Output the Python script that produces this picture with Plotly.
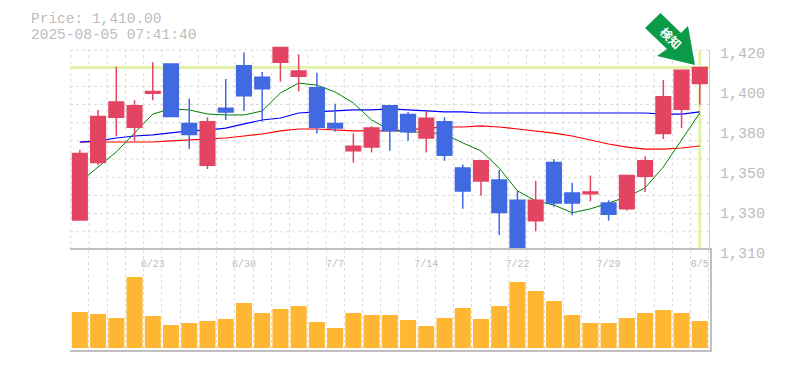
import math
import plotly.graph_objects as go

# ---- data ----
opens = [1326,1357,1382,1376.5,1395.5,1412,1378.5,1355.5,1387,1411,1404.5,1413,1405,1398.5,1378.5,1363.5,1365.5,1388.5,1383.5,1370.5,1379.5,1354,1347,1347.5,1336.5,1325.5,1357,1340.5,1340,1335,1332,1349.5,1373,1386.5,1401]
highs = [1364,1386,1410.5,1391.5,1413,1412,1392.5,1382,1403.5,1418.5,1407.5,1421.5,1417.5,1407,1389.5,1373,1377,1388.5,1385,1385.5,1382,1356,1358,1353,1341.5,1347,1359,1346,1350,1336.5,1350,1360.5,1403,1408.5,1410]
lows = [1325.5,1355.5,1371.5,1369,1391.5,1382.5,1364.5,1353.5,1380.5,1385.5,1379.5,1402,1396.5,1373,1374,1357,1362.5,1363.5,1369,1362.5,1358,1332,1339,1318,1309.5,1320,1333,1328.5,1336,1325.5,1331,1341,1370,1376,1389]
closes = [1362,1382.5,1390.5,1388.5,1396.5,1382.5,1372.5,1379.5,1385,1394,1398,1421.5,1408,1376.5,1376,1366,1376,1374.5,1374,1381.5,1361,1341.5,1358,1330,1310.5,1336.5,1335,1335,1341,1329,1350,1358,1393.5,1408.5,1410]
ma_short = [1346.4,1354.6,1362.8,1373.2,1383.8,1386.7,1386.1,1383.8,1383.3,1383.3,1385.5,1395.6,1401.2,1400,1396.2,1390,1380.5,1374.9,1373.8,1373.8,1372.7,1367.8,1363.4,1354,1341.6,1336.2,1334,1329.8,1331.9,1335.1,1338.3,1343.2,1354.6,1369.4,1384.4]
ma_mid = [1368.3,1368.9,1370.5,1371.6,1372.2,1373.2,1374.4,1374.9,1376,1378.3,1380.5,1381.6,1384.4,1385,1385.5,1386.1,1386.1,1386.7,1386.1,1385.5,1385,1385,1384.4,1384.4,1384.4,1384.4,1384.4,1384.4,1384.4,1384.4,1384.4,1384.4,1383.8,1383.8,1385]
ma_long = [1368.3,1368.3,1368.3,1368.3,1368.3,1368.9,1369.4,1370,1370.5,1371.6,1372.7,1374.4,1375.5,1375.5,1374.9,1374.4,1374.4,1374.4,1374.9,1376,1376.6,1376.6,1377.2,1376.6,1375.5,1374.4,1373.2,1371.6,1369.4,1367.2,1365.5,1364.4,1364.4,1365,1366.1]
volumes = [36,34,30,71,32,23,25,27,29,45,35,39,42,26,20,35,33,33,28,22,30,40,29,42,66,57,47,33,25,25,30,35,38,35,27]
date_positions = [4,9,14,19,24,29,34]
date_labels = ["6/23","6/30","7/7","7/14","7/22","7/29","8/5"]
price_ticks = [1420,1397.2,1375,1353,1331.4,1310]
price_labels = ["1,420","1,400","1,380","1,350","1,330","1,310"]
current_price = 1410

# ---- layout constants ----
W, H = 785, 370
GREY = "#c0c0c0"; GRID = "#dcdcdc"; TEXT = "#bdbdbd"; MONO = "Liberation Mono"
n = len(closes)
xs = list(range(n))
xr = [-0.54, 34.56]
lo, hi = 1310, 1420
top_ext = 6  # px above the 1420 line, so that a candle can pass it
step = (math.log10(hi) - math.log10(lo)) / 200
yr = [math.log10(lo), math.log10(hi) + top_ext * step]
xdom = [70 / W, 710 / W]
ydom_main = [1 - 250 / H, 1 - (50 - top_ext) / H]
ydom_vol = [1 - 350 / H, 1 - 250 / H]
grid_prices = [lo * (hi / lo) ** (k / 11) for k in range(0, 12)]

fig = go.Figure()
def line(x, y, color, width, dash="solid"):
    fig.add_trace(go.Scatter(x=x, y=y, mode="lines", hoverinfo="skip", showlegend=False,
                             cliponaxis=False, line=dict(color=color, width=width, dash=dash)))

hx, hy = [], []
for p in grid_prices[1:]:
    hx += [xr[0], xr[1], None]; hy += [p, p, None]
vx, vy = [], []
for i in range(n):
    vx += [i - 0.5, i - 0.5, None]; vy += [lo, hi, None]
line(hx, hy, GRID, 1, "3px,3px")
line(vx, vy, GRID, 1, "3px,3px")
line(xr, [current_price, current_price], "#e3f2ab", 3)
line([n - 1, n - 1], [lo, hi], "#e3f2ab", 3)
line([xr[1], xr[1]], [lo, hi], GREY, 1.5)
line(xr, [lo, lo], GREY, 1.5)
fig.add_trace(go.Scatter(x=xs, y=ma_long, mode="lines", line=dict(color="#ff0000", width=1.2), showlegend=False))
fig.add_trace(go.Scatter(x=xs, y=ma_mid, mode="lines", line=dict(color="#0000ff", width=1.2), showlegend=False))
fig.add_trace(go.Scatter(x=xs, y=ma_short, mode="lines", line=dict(color="#008000", width=1), showlegend=False))

fig.add_trace(go.Candlestick(
    x=xs, open=opens, high=highs, low=lows, close=closes, xaxis="x3", yaxis="y3", whiskerwidth=0,
    increasing=dict(line=dict(color="#e24462", width=1.5), fillcolor="#e24462"),
    decreasing=dict(line=dict(color="#4169e1", width=1.5), fillcolor="#4169e1"),
    showlegend=False))

fig.add_trace(go.Bar(x=xs, y=volumes, xaxis="x2", yaxis="y2", marker=dict(color="#ffb733", line=dict(width=0)),
                     width=0.88, showlegend=False))

fig.update_layout(
    template="none",
    width=W, height=H, margin=dict(l=0, r=0, t=0, b=0, pad=0), autosize=False,
    paper_bgcolor="white", plot_bgcolor="white", boxgap=0.2, boxgroupgap=0, showlegend=False,
    font=dict(family=MONO, color=TEXT, size=15),
    xaxis=dict(domain=xdom, range=xr, showgrid=False, zeroline=False, showticklabels=False, ticks="", automargin=False),
    yaxis=dict(domain=ydom_main, type="log", range=yr, showgrid=False, zeroline=False, showticklabels=False, ticks="", automargin=False),
    xaxis3=dict(domain=xdom, range=xr, overlaying="x", anchor="y", tickmode="array", tickvals=date_positions,
                ticktext=date_labels, showgrid=False, zeroline=False, ticks="", rangeslider=dict(visible=False),
                automargin=False, ticklabelstandoff=6, tickfont=dict(family=MONO, size=10, color=TEXT)),
    yaxis3=dict(domain=ydom_main, type="log", range=yr, overlaying="y", side="right", anchor="x",
                tickmode="array", tickvals=price_ticks, ticktext=price_labels, showgrid=False, zeroline=False,
                automargin=False, ticks="", ticklabelstandoff=9, ticklabelshift=3, tickfont=dict(family=MONO, size=15, color=TEXT)),
    xaxis2=dict(domain=xdom, range=xr, anchor="y2", tickmode="linear", tick0=-0.5, dtick=1, showgrid=True,
                griddash="3px,3px", gridcolor=GRID, gridwidth=1, showticklabels=False, ticks="", zeroline=False,
                automargin=False, showline=True, linecolor=GREY, linewidth=1.5, mirror=True),
    yaxis2=dict(domain=ydom_vol, range=[-2, 98], anchor="x2", side="right", showgrid=False, zeroline=False,
                automargin=False, showticklabels=False, ticks="", showline=True, linecolor=GREY, linewidth=1.5),
)

# header text
for txt, y in [("Price: 1,410.00", 18.5), ("2025-08-05 07:41:40", 34.5)]:
    fig.add_annotation(text=txt, xref="paper", yref="paper", x=30 / W, y=1 - y / H, xanchor="left", yanchor="middle",
                       showarrow=False, borderpad=0, font=dict(family=MONO, size=14.5, color=TEXT))

# marker arrow (decoration)
arrow = [(660.5,13),(645,28),(667,49),(657,56),(695,65),(688,26),(681,33)]
path = "M " + " L ".join(f"{x/W:.5f},{1-y/H:.5f}" for x, y in arrow) + " Z"
fig.add_shape(type="path", path=path, xref="paper", yref="paper", fillcolor="#0a9a48", line=dict(width=0), layer="above",
              label=dict(text="<b>検知</b>", textangle=45, textposition="middle center",
                         font=dict(family="Noto Sans CJK JP", size=12, color="white")))

fig.write_html("out.html", config={"displayModeBar": False},
               post_script="document.body.style.margin='0';document.documentElement.style.overflow='hidden';")
